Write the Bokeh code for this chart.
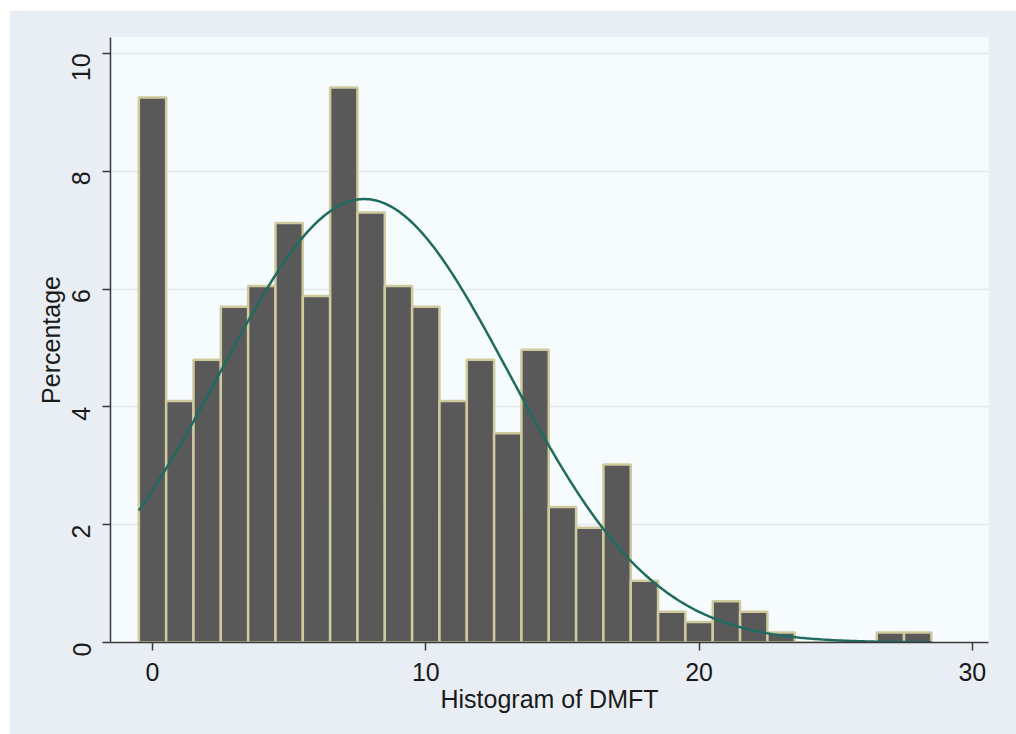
import numpy as np
from bokeh.plotting import figure
from bokeh.models import Range1d, FixedTicker, ColumnDataSource
from bokeh.embed import file_html
from bokeh.resources import INLINE
from math import pi

# ---- data ----
bin_centers = list(range(0, 29))
percent = [9.25, 4.10, 4.80, 5.70, 6.05, 7.12, 5.88, 9.42, 7.30, 6.05,
           5.70, 4.10, 4.80, 3.55, 4.97, 2.30, 1.95, 3.02, 1.05, 0.52,
           0.35, 0.70, 0.52, 0.17, 0.0, 0.0, 0.0, 0.17, 0.17]
bin_width = 1.0
# fitted normal overlay (parameters)
norm_mean = 7.75
norm_sd = 5.30
x_ticks = [0, 10, 20, 30]
y_ticks = [0, 2, 4, 6, 8, 10]

FONT = "Liberation Sans"
OUTER = "#E8EEF4"
INNER = "#F6FCFE"

p = figure(width=1007, height=724, output_backend="svg", toolbar_location=None,
           x_range=Range1d(-1.537, 30.59), y_range=Range1d(0, 10.27),
           min_border_left=101, min_border_right=28, min_border_top=27,
           min_border_bottom=92)
p.margin = (10, 0, 0, 9)
p.border_fill_color = OUTER
p.background_fill_color = INNER
p.outline_line_color = None

src = ColumnDataSource(dict(x=bin_centers, top=percent))
p.vbar(x="x", top="top", bottom=0, width=bin_width, source=src,
       fill_color="#595959", line_color="#CFCA9E", line_width=2.5)

xs = np.linspace(bin_centers[0] - bin_width / 2, bin_centers[-1] + bin_width / 2, 400)
ys = 100 * bin_width * np.exp(-0.5 * ((xs - norm_mean) / norm_sd) ** 2) / (norm_sd * np.sqrt(2 * np.pi))
p.line(xs, ys, line_color="#1F6B60", line_width=2.5)

# axes
p.xaxis.ticker = FixedTicker(ticks=x_ticks)
p.yaxis.ticker = FixedTicker(ticks=y_ticks)
p.xaxis.minor_tick_line_color = None
p.yaxis.minor_tick_line_color = None
for ax in (p.xaxis, p.yaxis):
    ax.axis_line_color = "#3a3a3a"
    ax.axis_line_width = 1.5
    ax.major_tick_line_color = "#3a3a3a"
    ax.major_tick_line_width = 1.5
    ax.major_tick_out = 8
    ax.major_tick_in = 0
    ax.major_label_text_font = FONT
    ax.major_label_text_font_size = "25px"
    ax.major_label_text_color = "#1a1a1a"
    ax.axis_label_text_font = FONT
    ax.axis_label_text_font_size = "25px"
    ax.axis_label_text_font_style = "normal"
    ax.axis_label_text_color = "#1a1a1a"

p.xaxis.axis_label = "Histogram of DMFT"
p.yaxis.axis_label = "Percentage"
p.yaxis.major_label_orientation = pi / 2
p.xaxis.major_label_standoff = 12
p.yaxis.major_label_standoff = 21
p.xaxis.axis_label_standoff = 1
p.yaxis.axis_label_standoff = -4

p.xgrid.grid_line_color = None
p.ygrid.grid_line_color = "#E3E8EC"
p.ygrid.grid_line_width = 1.5

open("out.html", "w").write(file_html(p, INLINE))
